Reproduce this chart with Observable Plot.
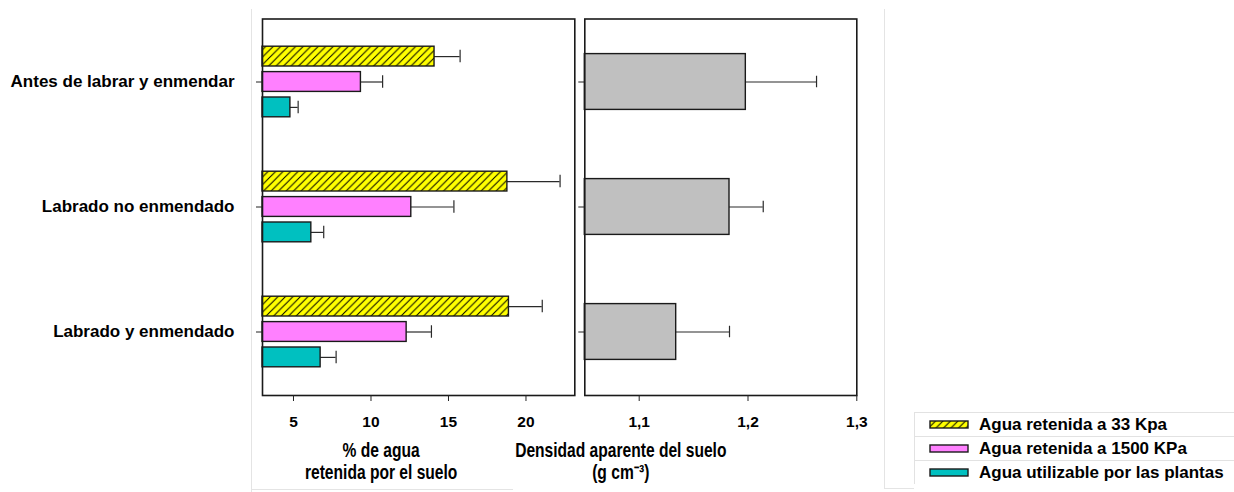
<!DOCTYPE html>
<html>
<head>
<meta charset="utf-8">
<script src="https://cdn.jsdelivr.net/npm/d3@7"></script>
<script src="https://cdn.jsdelivr.net/npm/@observablehq/plot@0.6"></script>
<style>
  html, body { margin: 0; padding: 0; background: #fff; }
  #wrap { position: relative; width: 1234px; height: 492px; overflow: hidden; background: #fff; }
  #left, #right { position: absolute; top: 0; }
  #left { left: 0; }
  #right { left: 578px; }
  .faint { position: absolute; background: #e4e4e4; }
  #legend { position: absolute; left: 914px; top: 412px; width: 320px; font-family: "Liberation Sans", Arial, sans-serif; font-weight: bold; font-size: 17px; color: #000; }
  #legend .row { display: flex; align-items: center; height: 23px; border-top: 1px solid #e2e2e2; border-left: 1px solid #e2e2e2; }
  #legend svg { margin-left: 14px; margin-right: 10px; }
</style>
</head>
<body>
<svg width="0" height="0" style="position:absolute">
  <defs>
    <pattern id="hatch" patternUnits="userSpaceOnUse" width="7.5" height="7.5">
      <rect width="7.5" height="7.5" fill="#ffff00"></rect>
      <path d="M-1,1 l2,-2 M0,7.5 l7.5,-7.5 M6.5,8.5 l2,-2" stroke="#000" stroke-width="1"></path>
    </pattern>
  </defs>
</svg>
<div id="wrap">
  <div class="faint" style="left:251px;top:9px;width:1px;height:483px"></div>
  <div class="faint" style="left:251px;top:489px;width:262px;height:1px"></div>
  <div class="faint" style="left:884px;top:9px;width:1px;height:479px"></div>
  <div class="faint" style="left:884px;top:488px;width:30px;height:1px"></div>
  <div id="left"></div>
  <div id="right"></div>
  <div id="legend"></div>
</div>
<script>
// ---- data ----
const categories = ["Antes de labrar y enmendar", "Labrado no enmendado", "Labrado y enmendado"];
const series = ["Agua retenida a 33 Kpa", "Agua retenida a 1500 KPa", "Agua utilizable por las plantas"];
const agua33 = [14.1, 18.8, 18.9];
const err33 = [1.65, 3.4, 2.15];
const agua1500 = [9.35, 12.6, 12.3];
const err1500 = [1.4, 2.75, 1.6];
const aguaUtil = [4.8, 6.15, 6.75];
const errUtil = [0.5, 0.8, 1.0];
const densidad = [1.198, 1.183, 1.134];
const errDensidad = [0.065, 0.031, 0.049];
const xTicksLeft = [5, 10, 15, 20];
const xTicksRight = [1.1, 1.2, 1.3];
const xTickLabelsRight = ["1,1", "1,2", "1,3"];
const xDomainLeft = [3, 23.15];
const xDomainRight = [1.05, 1.3];
const titleLeft = "% de agua\nretenida por el suelo";
const titleRight = "Densidad aparente del suelo\n(g cm⁻³)";

// ---- styles ----
const fills = ["url(#hatch)", "#ff80ff", "#00c0c0"];
const offsets = [-25.4, 0, 25.4];
const font = "'Liberation Sans', Arial, sans-serif";
const bandH = (395 - 18.5) / 3;
const barInset = (bandH - 20.3) / 2;
const capInset = (bandH - 13) / 2;

const values = [agua33, agua1500, aguaUtil];
const errs = [err33, err1500, errUtil];
const rows = categories.flatMap((c, i) => series.map((s, j) => ({cat: c, serie: s, k: j, v: values[j][i], e: errs[j][i]})));
const dens = categories.map((c, i) => ({cat: c, v: densidad[i], e: errDensidad[i]}));

const seriesMarks = series.flatMap((s, j) => {
  const d = rows.filter(r => r.k === j);
  return [
    Plot.ruleY(d, {y: "cat", x1: "v", x2: r => r.v + r.e, dy: offsets[j], stroke: "#2a2a2a", strokeWidth: 1.2}),
    Plot.tickX(d, {y: "cat", x: r => r.v + r.e, dy: offsets[j], insetTop: capInset, insetBottom: capInset, stroke: "#2a2a2a", strokeWidth: 1.2}),
    Plot.barX(d, {y: "cat", x1: () => xDomainLeft[0], x2: "v", dy: offsets[j], insetTop: barInset, insetBottom: barInset, fill: fills[j], stroke: "#1a1a1a", strokeWidth: 1.4})
  ];
});

const axisTextStyle = {fontSize: 15.5, fontWeight: "bold", fontFamily: font};
const titleStyle = {frameAnchor: "bottom", dy: 65, lineAnchor: "middle", lineHeight: 1.13, fontSize: 19.5, fontWeight: "bold", fontFamily: font, fill: "#000"};

const left = Plot.plot({
  width: 580, height: 492,
  marginLeft: 262, marginRight: 5.7, marginTop: 18.5, marginBottom: 97,
  style: {background: "transparent", color: "#000", overflow: "visible"},
  x: {domain: xDomainLeft},
  y: {domain: categories, padding: 0},
  marks: [
    ...seriesMarks,
    Plot.frame({stroke: "#1a1a1a", strokeWidth: 1.6}),
    Plot.axisY({tickSize: 6, tickPadding: 22, fontSize: 17, fontWeight: "bold", fontFamily: font, label: null, stroke: "#222"}),
    Plot.axisX({ticks: xTicksLeft, tickSize: 6, tickPadding: 14, ...axisTextStyle, label: null, stroke: "#222"}),
    Plot.text([titleLeft], {text: d => d, dx: -37.5, ...titleStyle})
  ]
});
document.getElementById("left").appendChild(left);

const right = Plot.plot({
  width: 300, height: 492,
  marginLeft: 6.3, marginRight: 21.7, marginTop: 18.5, marginBottom: 97,
  style: {background: "transparent", color: "#000", overflow: "visible"},
  x: {domain: xDomainRight},
  y: {domain: categories, padding: 0},
  marks: [
    Plot.ruleY(dens, {y: "cat", x1: "v", x2: d => d.v + d.e, stroke: "#2a2a2a", strokeWidth: 1.2}),
    Plot.tickX(dens, {y: "cat", x: d => d.v + d.e, insetTop: (bandH - 12) / 2, insetBottom: (bandH - 12) / 2, stroke: "#2a2a2a", strokeWidth: 1.2}),
    Plot.barX(dens, {y: "cat", x1: () => xDomainRight[0], x2: "v", insetTop: (bandH - 56.3) / 2, insetBottom: (bandH - 56.3) / 2, fill: "#c0c0c0", stroke: "#1a1a1a", strokeWidth: 1.4}),
    Plot.frame({stroke: "#1a1a1a", strokeWidth: 1.6}),
    Plot.axisY({tickSize: 6, tickFormat: () => "", label: null, stroke: "#222"}),
    Plot.axisX({ticks: xTicksRight, tickFormat: v => xTickLabelsRight[xTicksRight.findIndex(t => Math.abs(t - v) < 1e-9)], tickSize: 6, tickPadding: 14, ...axisTextStyle, label: null, stroke: "#222"}),
    Plot.text([titleRight], {text: d => d, dx: -100, ...titleStyle})
  ]
});
document.getElementById("right").appendChild(right);

// narrow-font look: condense the axis titles horizontally
for (const svg of [left, right]) {
  svg.querySelectorAll("text").forEach(el => {
    const s = el.textContent;
    if (!(s.includes("retenida por el suelo") || s.includes("Densidad aparente"))) return;
    const X = parseFloat(el.getAttribute("x")) || 0;
    const t = el.getAttribute("transform") || "";
    el.setAttribute("transform", `${t} translate(${X},0) scale(0.8,1) translate(${-X},0)`.trim());
  });
}

// ---- legend ----
const legend = document.getElementById("legend");
series.forEach((s, j) => {
  const row = document.createElement("div");
  row.className = "row";
  row.innerHTML = `<svg width="40" height="9"><rect x="1" y="1" width="38" height="7" fill="${fills[j]}" stroke="#1a1a1a" stroke-width="1.4"></rect></svg><span></span>`;
  row.querySelector("span").textContent = s;
  legend.appendChild(row);
});
</script>
</body>
</html>
